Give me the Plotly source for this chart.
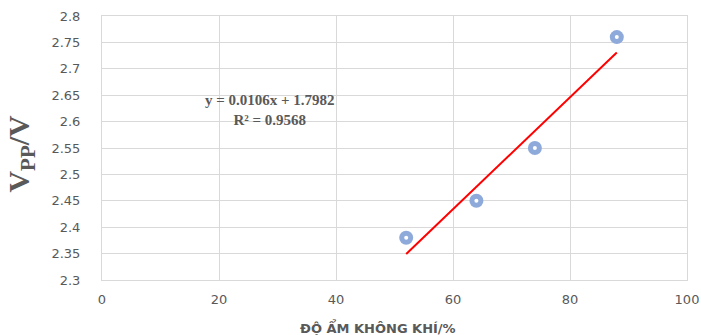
import plotly.graph_objects as go

humidity = [52, 64, 74, 88]
vpp = [2.38, 2.45, 2.55, 2.76]
slope = 0.0106
intercept = 1.7982
trend_x = [min(humidity), max(humidity)]
trend_y = [slope * x + intercept for x in trend_x]

x_ticks = [0, 20, 40, 60, 80, 100]
y_ticks = [2.3, 2.35, 2.4, 2.45, 2.5, 2.55, 2.6, 2.65, 2.7, 2.75, 2.8]
y_tick_labels = ["2.3", "2.35", "2.4", "2.45", "2.5", "2.55", "2.6", "2.65", "2.7", "2.75", "2.8"]

fig = go.Figure()
fig.add_trace(go.Scatter(x=humidity, y=vpp, mode="markers",
                         marker=dict(symbol="circle", size=14, color="#8EAADB",
                                     line=dict(width=0)),
                         hoverinfo="skip", showlegend=False))
fig.add_trace(go.Scatter(x=humidity, y=vpp, mode="markers",
                         marker=dict(symbol="circle", size=4, color="white",
                                     line=dict(width=0)),
                         hoverinfo="skip", showlegend=False))
fig.add_trace(go.Scatter(x=trend_x, y=trend_y, mode="lines",
                         line=dict(color="#FF0000", width=2),
                         hoverinfo="skip", showlegend=False))

grey = "#595959"
fig.update_layout(
    width=701, height=335,
    margin=dict(l=102, r=14, t=16, b=55, autoexpand=False),
    paper_bgcolor="white", plot_bgcolor="white",
    font=dict(family="DejaVu Sans", size=13, color=grey),
    xaxis=dict(range=[0, 100], tickvals=x_ticks, showgrid=True, gridcolor="#D9D9D9",
               gridwidth=1, showline=True, linecolor="#D9D9D9", mirror=True,
               zeroline=False, ticks="", tickfont=dict(size=13, color=grey),
               ticklabelstandoff=7, automargin=False),
    yaxis=dict(range=[2.3, 2.8], tickvals=y_ticks, ticktext=y_tick_labels,
               showgrid=True, gridcolor="#D9D9D9", gridwidth=1, showline=True,
               linecolor="#D9D9D9", mirror=True, zeroline=False, ticks="",
               tickfont=dict(size=13, color=grey), ticklabelstandoff=18,
               automargin=False),
)

fig.add_annotation(text="<b>V<sub>PP</sub>/V</b>", xref="paper", yref="paper",
                   x=-0.138, y=0.48, xanchor="center", yanchor="middle",
                   textangle=-90, showarrow=False,
                   font=dict(family="Liberation Serif", size=30, color=grey))
fig.add_annotation(text="<b>ĐỘ ẨM KHÔNG KHÍ/%</b>", xref="paper", yref="paper",
                   x=0.472, y=-0.18, xanchor="center", yanchor="middle",
                   showarrow=False,
                   font=dict(family="DejaVu Sans", size=13, color=grey))
fig.add_annotation(text="<b>y = 0.0106x + 1.7982</b><br><b>R² = 0.9568</b>",
                   xref="paper", yref="paper", x=0.288, y=0.645,
                   xanchor="center", yanchor="middle", align="center",
                   showarrow=False,
                   font=dict(family="Liberation Serif", size=15, color=grey))

fig.write_html("out.html", config={"displayModeBar": False},
               post_script="document.body.style.margin='0';document.body.style.overflow='hidden';")
